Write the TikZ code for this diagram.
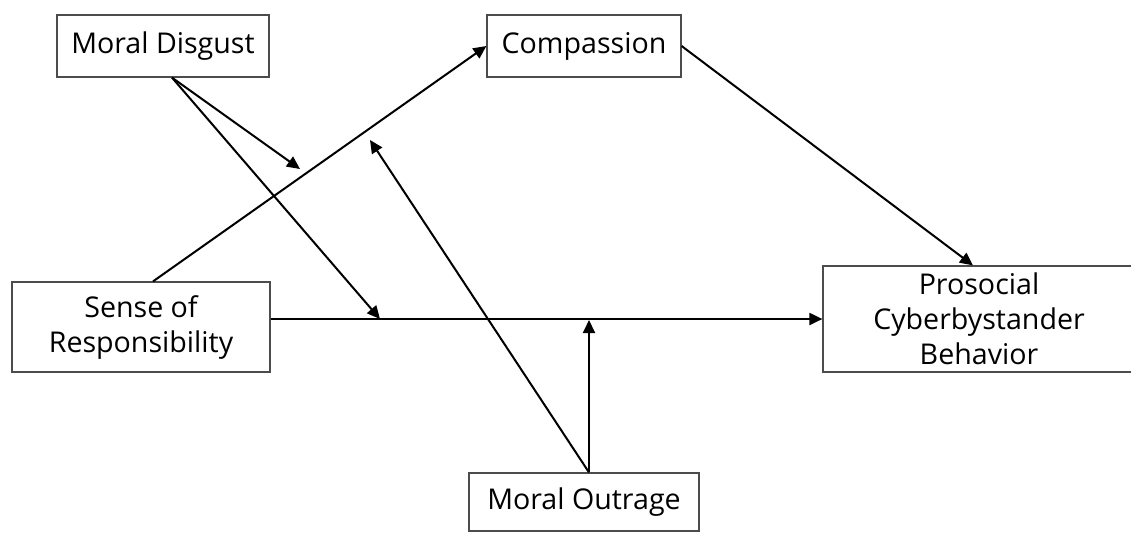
\documentclass[tikz,border=0pt]{standalone}
\usepackage{fontspec}
\setmainfont{Open Sans}
\usetikzlibrary{positioning, arrows.meta, calc}

\begin{document}
\begin{tikzpicture}[
    x=0.5pt, y=-0.5pt,
    box/.style={draw=black!70, line width=0.6pt, inner sep=0pt, align=center,
                font=\fontsize{14.3}{17.5}\selectfont},
    arr/.style={-{Triangle[length=6.5pt, width=6pt]}, line width=1pt},
]
    \useasboundingbox (0,0) rectangle (1131,532);

    % Top row
    \node[box, minimum width=106pt, minimum height=31pt] (md) at (163,46) {Moral Disgust};
    \node[box, minimum width=97pt, minimum height=31pt] (cp) at (584,46) {Compassion};

    % Predictor and outcome
    \node[box, minimum width=129pt, minimum height=45pt] (sr) at (141,327)
        {Sense of\\Responsibility};
    \node[box, minimum width=156pt, minimum height=53pt] (pb) at (979,319)
        {Prosocial\\Cyberbystander\\Behavior};

    % Bottom
    \node[box, minimum width=115pt, minimum height=29pt] (mo) at (584,502) {Moral Outrage};

    % Points where the moderators hit the paths
    \coordinate (mdsrc) at ($(md.south)+(9,0)$);
    \coordinate (mosrc) at ($(mo.north)+(5,0)$);
    \coordinate (m1) at (300,169);
    \coordinate (m2) at (370,140);
    \coordinate (m3) at (380,319);
    \coordinate (m4) at (589,320);

    % Main paths
    \draw[arr] ($(sr.north)+(12,0)$) -- (cp.west);
    \draw[arr] (cp.east) -- ($(pb.north)+(-6,0)$);
    \draw[arr] (sr.east |- pb.west) -- (pb.west);

    % Moderation
    \draw[arr] (mdsrc) -- (m1);
    \draw[arr] (mdsrc) -- (m3);
    \draw[arr] (mosrc) -- (m2);
    \draw[arr] (mosrc) -- (m4);
\end{tikzpicture}
\end{document}
